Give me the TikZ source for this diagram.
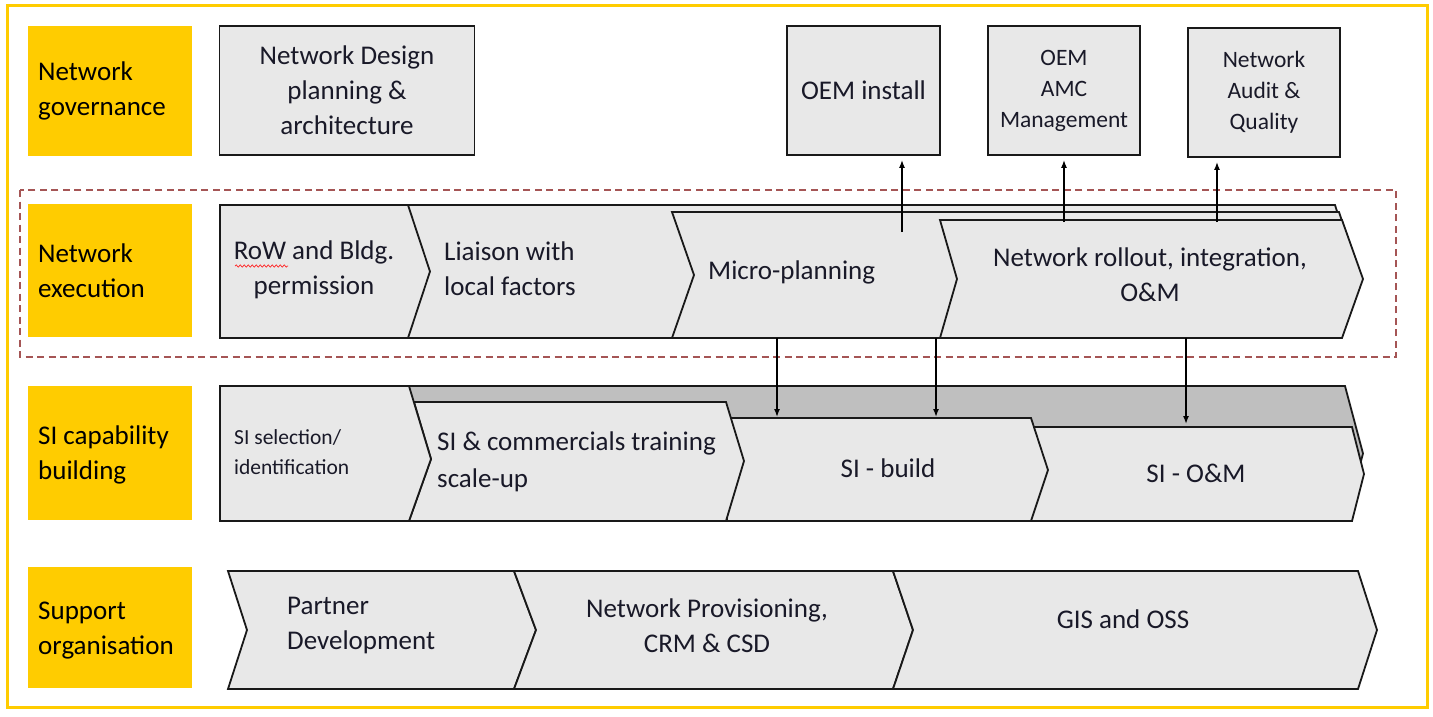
\documentclass[tikz,border=0pt]{standalone}
\usepackage{fontspec}
\setmainfont{Carlito}
\usetikzlibrary{arrows.meta,decorations.pathmorphing}
\definecolor{ylw}{RGB}{255,204,0}
\definecolor{boxg}{RGB}{232,232,232}
\definecolor{bandg}{RGB}{191,191,191}
\definecolor{dashred}{RGB}{165,85,85}
\definecolor{txt}{RGB}{25,25,40}
\newcommand\fsa{\fontsize{27}{35}\selectfont}
\newcommand\fsb{\fontsize{23.5}{31}\selectfont}
\newcommand\fsc{\fontsize{21.5}{30}\selectfont}
\begin{document}
\begin{tikzpicture}[x=1pt,y=-1pt,line join=miter,
  labbox/.style={fill=ylw,draw=none,inner sep=0pt,minimum width=164pt,anchor=north west},
  gbox/.style={draw=black!90,line width=1.8pt,fill=boxg,align=center,inner sep=0pt,text=txt,font=\fsa},
  chev/.style={draw=black!90,line width=1.8pt,fill=boxg},
  bandshape/.style={draw=black!90,line width=1.8pt,fill=bandg},
  tx/.style={text=txt,font=\fsa,align=center,inner sep=0pt},
  ltx/.style={text=black,font=\fsa,align=left,inner sep=0pt,anchor=west},
  arr/.style={-{Latex[length=8pt,width=6pt]},line width=1.5pt,black}]
\useasboundingbox (0,0) rectangle (1433,716);
\fill[white] (0,0) rectangle (1433,716);
\draw[ylw,line width=3pt] (7.5,5.5) rectangle (1427,707);

% row labels
\node[labbox,minimum height=130pt] (lgov) at (28,26) {};
\node[labbox,minimum height=133pt] (lexe) at (28,204) {};
\node[labbox,minimum height=134pt] (lsi) at (28,386) {};
\node[labbox,minimum height=121pt] (lsup) at (28,567) {};
\node[ltx] (tgov) at (38,91) {Network\\governance};
\node[ltx] (texe) at (38,270.5) {Network\\execution};
\node[ltx] (tsi) at (38,455) {SI capability\\building};
\node[ltx] (tsup) at (38,631) {Support\\organisation};

% governance boxes
\node[gbox,minimum width=255pt,minimum height=129pt] (nd) at (347,90.5) {Network Design\\planning \&\\architecture};
\node[gbox,minimum width=153pt,minimum height=129pt] (oem) at (863.5,90.5) {OEM install};
\node[gbox,minimum width=152pt,minimum height=129pt,font=\fsb] (amc) at (1064,90.5) {OEM\\AMC\\Management};
\node[gbox,minimum width=152pt,minimum height=129pt,font=\fsb] (aud) at (1264,92.5) {Network\\Audit \&\\Quality};

% execution row
\draw[chev] (408,205) -- (1335,205) -- (1356,271.5) -- (1335,338) -- (408,338) -- cycle;
\draw[chev] (672,212) -- (1339,212) -- (1360,275) -- (1339,338) -- (672,338) -- (694,275) -- cycle;
\draw[chev] (940,220) -- (1342,220) -- (1363,279) -- (1342,338) -- (940,338) -- (957,279) -- cycle;
\draw[chev] (220,205) -- (408,205) -- (430,271.5) -- (408,338) -- (220,338) -- cycle;
\node[tx] (trow) at (314,270) {RoW and Bldg.\\permission};
\draw[red!85,line width=0.7pt,decorate,decoration={snake,amplitude=1.1pt,segment length=4pt}] (235,266) -- (288,266);
\node[ltx,text=txt] (tlia) at (444,268.5) {Liaison with\\local factors};
\node[ltx,text=txt] (tmic) at (708,272) {Micro-planning};
\node[tx] (trol) at (1150,275) {Network rollout, integration,\\O\&M};

% SI row
\draw[bandshape] (409,386) -- (1345,386) -- (1363,453.5) -- (1345,521) -- (409,521) -- cycle;
\draw[chev] (1031,427) -- (1352,427) -- (1364,474) -- (1352,521) -- (1031,521) -- cycle;
\draw[chev] (727,418) -- (1031,418) -- (1048,470) -- (1031,521) -- (727,521) -- cycle;
\draw[chev] (414,402) -- (726,402) -- (744,461) -- (726,521) -- (409,521) -- (431,459) -- cycle;
\draw[chev] (220,386) -- (409,386) -- (431,459) -- (409,521) -- (220,521) -- cycle;
\node[ltx,text=txt,font=\fsc] (tsel) at (234,452) {SI selection/\\identification};
\node[ltx,text=txt,font=\fontsize{27}{37}\selectfont] (tcom) at (437,461.5) {SI \& commercials training\\scale-up};
\node[tx] (tbld) at (888,468) {SI - build};
\node[tx] (tsom) at (1196,473) {SI - O\&M};

% support row
\draw[chev] (228,571) -- (514,571) -- (536,630) -- (514,689) -- (228,689) -- (247,630) -- cycle;
\draw[chev] (514,571) -- (893,571) -- (913,630) -- (893,689) -- (514,689) -- (536,630) -- cycle;
\draw[chev] (893,571) -- (1358,571) -- (1377,630) -- (1358,689) -- (893,689) -- (913,630) -- cycle;
\node[ltx,text=txt] (tpar) at (287,625.5) {Partner\\Development};
\node[tx] (tnp) at (707,625.5) {Network Provisioning,\\CRM \& CSD};
\node[tx] (tgis) at (1123,619) {GIS and OSS};

% dashed execution frame
\draw[dashred,line width=1.3pt,dash pattern=on 7pt off 4.5pt] (20,190) rectangle (1396,357);

% arrows up
\coordinate (a1) at (902,232);
\coordinate (a2) at (1064,222);
\coordinate (a3) at (1217,222);
\draw[arr,shorten >=4pt] (a1) -- (a1 |- oem.south);
\draw[arr,shorten >=4pt] (a2) -- (a2 |- amc.south);
\draw[arr,shorten >=4pt] (a3) -- (a3 |- aud.south);
% arrows down
\coordinate (b1) at (777,338);  \coordinate (b1e) at (777,417);
\coordinate (b2) at (936,338);  \coordinate (b2e) at (936,417);
\coordinate (b3) at (1186,338); \coordinate (b3e) at (1186,424);
\draw[arr] (b1) -- (b1e);
\draw[arr] (b2) -- (b2e);
\draw[arr] (b3) -- (b3e);
\end{tikzpicture}
\end{document}
